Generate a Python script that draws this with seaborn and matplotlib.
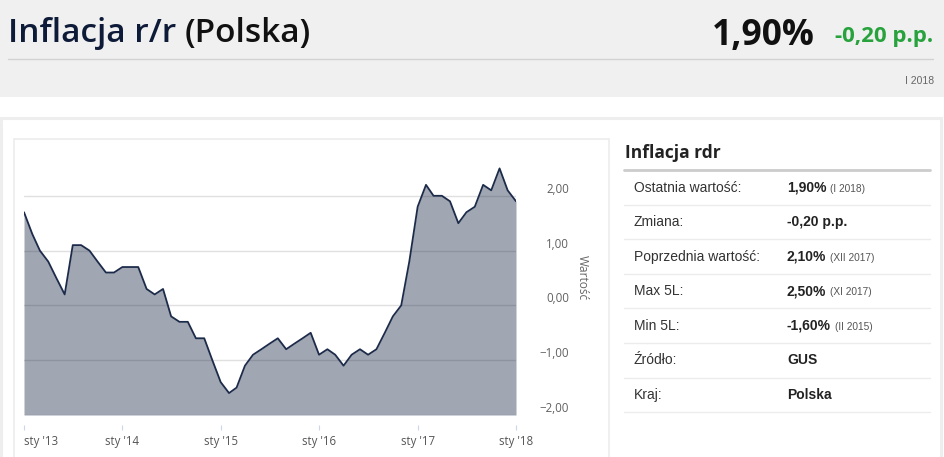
import pandas as pd
import matplotlib
matplotlib.use("Agg")
import matplotlib.pyplot as plt
from matplotlib.patches import Rectangle
from matplotlib.lines import Line2D
import seaborn as sns

W, H = 945, 457

# monthly CPI y/y, Poland, I 2013 - I 2018
months = pd.date_range("2013-01-01", "2018-01-01", freq="MS")
cpi = [1.7, 1.3, 1.0, 0.8, 0.5, 0.2, 1.1, 1.1, 1.0, 0.8, 0.6, 0.6,
       0.7, 0.7, 0.7, 0.3, 0.2, 0.3, -0.2, -0.3, -0.3, -0.6, -0.6, -1.0,
       -1.4, -1.6, -1.5, -1.1, -0.9, -0.8, -0.7, -0.6, -0.8, -0.7, -0.6, -0.5,
       -0.9, -0.8, -0.9, -1.1, -0.9, -0.8, -0.9, -0.8, -0.5, -0.2, 0.0, 0.8,
       1.8, 2.2, 2.0, 2.0, 1.9, 1.5, 1.7, 1.8, 2.2, 2.1, 2.5, 2.1,
       1.9]

year_ticks = pd.date_range("2013-01-01", "2018-01-01", freq="YS")
year_labels = ["sty '13", "sty '14", "sty '15", "sty '16", "sty '17", "sty '18"]
y_ticks = [-2, -1, 0, 1, 2]
y_labels = ["−2,00", "−1,00", "0,00", "1,00", "2,00"]

row_labels = ["Ostatnia wartość:", "Zmiana:", "Poprzednia wartość:", "Max 5L:",
              "Min 5L:", "Źródło:", "Kraj:"]
row_values = ["1,90%", "-0,20 p.p.", "2,10%", "2,50%", "-1,60%", "GUS", "Polska"]
row_notes = ["(I 2018)", "", "(XII 2017)", "(XI 2017)", "(II 2015)", "", ""]

sns.set_style("white")
plt.rcParams['font.family'] = ['Open Sans', 'DejaVu Sans']

fig = plt.figure(figsize=(W / 100, H / 100), dpi=100)
fig.patch.set_facecolor("white")


def fx(x):
    return x / W


def fy(y):
    return 1 - y / H


def rect(x0, y0, x1, y1, **kw):
    fig.add_artist(Rectangle((fx(x0), fy(y1)), fx(x1) - fx(x0), fy(y0) - fy(y1),
                             transform=fig.transFigure, **kw))


def hline(x0, x1, y, **kw):
    fig.add_artist(Line2D([fx(x0), fx(x1)], [fy(y), fy(y)], transform=fig.transFigure, **kw))


# header
rect(0, 0, W, 97, facecolor="#f0f0f0", edgecolor="none")
hline(8, 933, 58.5, color="#d2d2d2", lw=1)
t1 = fig.text(fx(8), fy(42), "Inflacja r/r ", fontsize=24, weight="semibold",
              color="#0e1b38", va="baseline")
fig.canvas.draw()
r = fig.canvas.get_renderer()
bb = t1.get_window_extent(r)
fig.text(bb.x1 / W, fy(42), "(Polska)", fontsize=24, weight="semibold",
         color="#111111", va="baseline")
fig.text(fx(815), fy(45), "1,90%", fontsize=25.5, weight="bold", color="#111111",
         ha="right", va="baseline")
fig.text(fx(933), fy(42), "-0,20 p.p.", fontsize=16, weight="bold", color="#27a23c",
         ha="right", va="baseline")
fig.text(fx(934), fy(84), "I 2018", fontsize=7.5, color="#666666", ha="right",
         va="baseline", family="Liberation Sans")

# panels
rect(1.5, 118, 941.5, 480, facecolor="none", edgecolor="#eeeeee", lw=2.2)
rect(14, 139, 609, 480, facecolor="none", edgecolor="#ececec", lw=1.2)

# chart
ax = fig.add_axes([fx(24), fy(415), fx(516) - fx(24), fy(141) - fy(415)])
ax.set_axisbelow(True)
ax.grid(axis="y", color="#e0e0e0", lw=1)
ax.grid(axis="x", visible=False)
ax.fill_between(months, cpi, -2, color="#12213f", alpha=0.4, lw=0, zorder=1)
sns.lineplot(x=months, y=cpi, ax=ax, color="#1d2b4a", lw=1.3, zorder=3)
ax.set_xlim(months[0], months[-1])
ax.set_ylim(-2, 3)
for s in ax.spines.values():
    s.set_color("none")
ax.spines["bottom"].set_position(("outward", 7.2))

ax.set_xticks(year_ticks)
ax.set_xticklabels(year_labels)
ax.tick_params(axis="x", bottom=True, length=3.6, width=0.8, color="#ccd6eb",
               labelsize=8.3, labelcolor="#555555", pad=3.5)
ax.get_xticklabels()[0].set_horizontalalignment("left")

ax.yaxis.tick_right()
ax.set_yticks(y_ticks)
ax.set_yticklabels(y_labels)
ax.tick_params(axis="y", length=0, labelsize=8.3, labelcolor="#606060", pad=38)
for lab in ax.get_yticklabels():
    lab.set_horizontalalignment("right")
    lab.set_verticalalignment("bottom")
ax.yaxis.set_label_position("right")
ax.set_ylabel("Wartość", rotation=270, fontsize=8.6, color="#666666", labelpad=5,
              va="bottom")
ax.set_xlabel("")

# info table
fig.text(fx(625), fy(158.5), "Inflacja rdr", fontsize=12.5, weight="bold",
         color="#222222", va="baseline")
hline(624, 930, 169.5, color="#cccccc", lw=2)
step = 34.6
for i, (lab, val, note) in enumerate(zip(row_labels, row_values, row_notes)):
    yc = 187.5 + step * i
    fig.text(fx(634), fy(yc), lab, fontsize=10, color="#333333", va="center",
             family="Liberation Sans")
    tv = fig.text(fx(787), fy(yc), val, fontsize=10, weight="bold", color="#222222",
                  va="center", family="Liberation Sans")
    if note:
        vb = tv.get_window_extent(r)
        fig.text((vb.x1 + 4) / W, fy(yc + 1), note, fontsize=7.3, color="#555555",
                 va="center", family="Liberation Sans")
    hline(624, 930, 204.5 + step * i, color="#ececec", lw=1)

fig.savefig("out.png", dpi=100)
